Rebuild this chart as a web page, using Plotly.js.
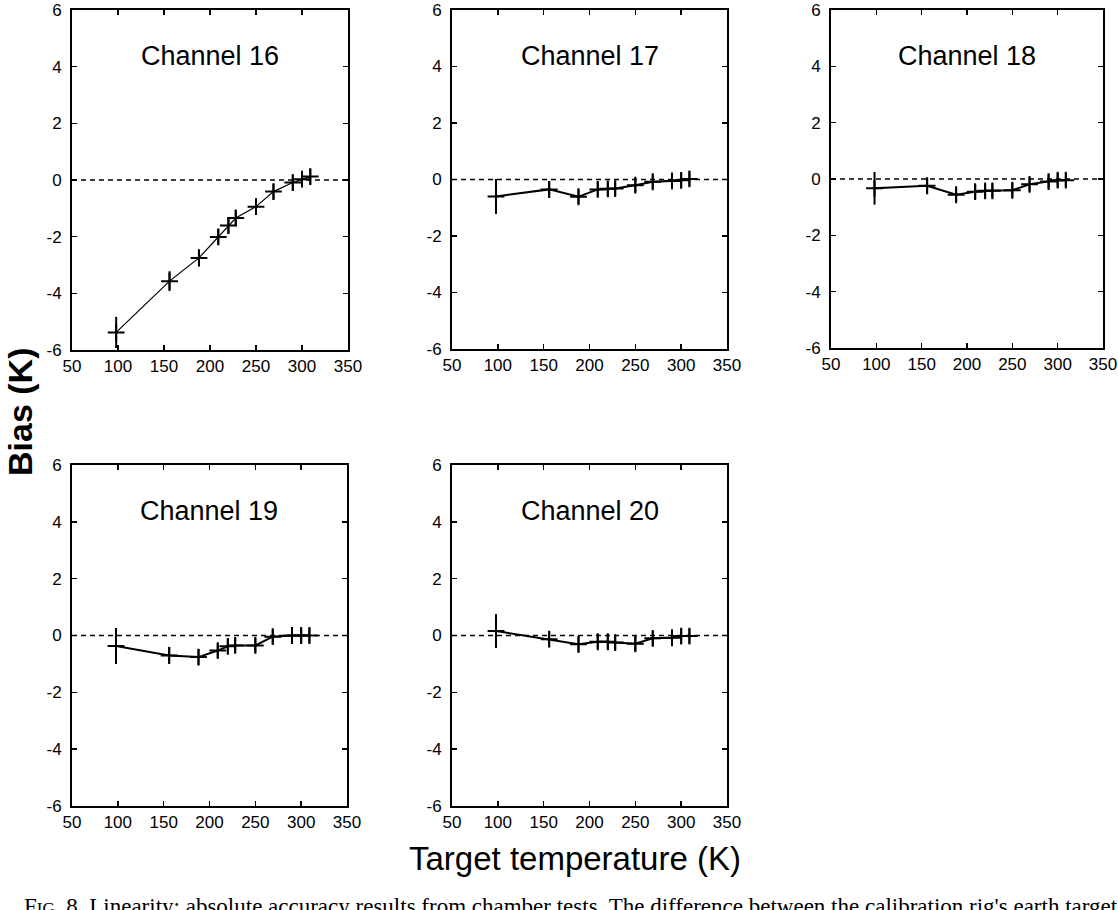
<!DOCTYPE html>
<html>
<head>
<meta charset="utf-8">
<script src="https://cdn.plot.ly/plotly-3.0.1.min.js"></script>
<style>
  body { margin: 0; background: #fff; }
  #grafico { width: 1118px; height: 910px; }
</style>
</head>
<body>
<div id="grafico"></div>
<script>
// target temperatures (K), same set for every channel
const temps = [98, 156, 188, 209, 220, 228, 250, 269, 290, 300, 309];

const channelNames = ['Channel 16', 'Channel 17', 'Channel 18', 'Channel 19', 'Channel 20'];

// bias (K)
const bias16 = [-5.38, -3.57, -2.75, -2.01, -1.61, -1.34, -0.94, -0.41, -0.09, 0.03, 0.12];
const bias17 = [-0.6, -0.35, -0.61, -0.35, -0.33, -0.32, -0.2, -0.08, -0.05, -0.03, 0.02];
const bias18 = [-0.33, -0.24, -0.56, -0.45, -0.42, -0.42, -0.4, -0.19, -0.09, -0.04, -0.04];
const bias19 = [-0.37, -0.7, -0.76, -0.53, -0.38, -0.35, -0.35, -0.04, 0, 0, 0];
const bias20 = [0.16, -0.13, -0.31, -0.22, -0.22, -0.25, -0.29, -0.1, -0.08, -0.02, -0.02];

// error bar half-lengths (K)
const err16 = [0.55, 0.35, 0.3, 0.28, 0.28, 0.28, 0.28, 0.28, 0.28, 0.28, 0.28];
const err17 = [0.62, 0.3, 0.26, 0.26, 0.26, 0.26, 0.26, 0.26, 0.26, 0.26, 0.26];
const err18 = [0.58, 0.28, 0.24, 0.26, 0.26, 0.26, 0.26, 0.26, 0.26, 0.26, 0.26];
const err19 = [0.63, 0.3, 0.28, 0.26, 0.26, 0.26, 0.26, 0.26, 0.26, 0.26, 0.26];
const err20 = [0.6, 0.28, 0.28, 0.26, 0.26, 0.26, 0.26, 0.26, 0.26, 0.26, 0.26];

const xTicks = [50, 100, 150, 200, 250, 300, 350];
const yTicks = [-6, -4, -2, 0, 2, 4, 6];

const allBias = [bias16, bias17, bias18, bias19, bias20];
const allErr = [err16, err17, err18, err19, err20];

// panel frames in pixels [left, right, top, bottom]
const W = 1118, H = 910;
const frames = [
    [72, 348, 10, 350],
    [452, 727, 10, 349],
    [831, 1103, 10, 348],
    [72, 347, 465, 806],
    [452, 727, 465, 806]
];

let traces = [];
let layout = {
    width: W,
    height: H,
    margin: { l: 0, r: 0, t: 0, b: 0 },
    paper_bgcolor: '#fff',
    plot_bgcolor: '#fff',
    showlegend: false,
    font: { family: '"Liberation Sans", Arial, sans-serif', color: '#000', size: 17 },
    shapes: [],
    annotations: []
};

for (let i = 0; i < 5; i++) {
    let n = i === 0 ? '' : String(i + 1);
    let f = frames[i];

    traces.push({
        x: temps,
        y: allBias[i],
        xaxis: 'x' + n,
        yaxis: 'y' + n,
        type: 'scatter',
        mode: 'lines+markers',
        line: { color: '#000', width: i === 0 ? 1.2 : 2 },
        marker: { symbol: 'cross-thin', size: 12, line: { color: '#000', width: 2 } },
        error_y: { type: 'data', array: allErr[i], visible: true, color: '#000', thickness: 2, width: 0 },
        cliponaxis: true,
        hoverinfo: 'x+y'
    });

    layout['xaxis' + n] = {
        domain: [f[0] / W, f[1] / W],
        anchor: 'y' + n,
        range: [50, 350],
        tickvals: xTicks,
        ticktext: xTicks.map(String),
        ticks: 'inside',
        ticklen: 5,
        tickwidth: 1.5,
        tickcolor: '#000',
        showline: true,
        linecolor: '#000',
        linewidth: 2,
        mirror: 'ticks',
        showgrid: false,
        zeroline: false,
        ticklabeloverflow: 'allow',
        tickfont: { size: 17 }
    };
    layout['yaxis' + n] = {
        domain: [1 - f[3] / H, 1 - f[2] / H],
        anchor: 'x' + n,
        range: [-6, 6],
        tickvals: yTicks,
        ticktext: yTicks.map(String),
        ticks: 'inside',
        ticklen: 5,
        tickwidth: 1.5,
        tickcolor: '#000',
        showline: true,
        linecolor: '#000',
        linewidth: 2,
        mirror: 'ticks',
        showgrid: false,
        zeroline: false,
        ticklabelstandoff: 5,
        ticklabeloverflow: 'allow',
        tickfont: { size: 17 }
    };

    // dashed zero line
    layout.shapes.push({
        type: 'line',
        xref: 'x' + n + ' domain',
        yref: 'y' + n,
        x0: 0, x1: 1, y0: 0, y1: 0,
        line: { color: '#000', width: 1.5, dash: '5px,4px' },
        layer: 'below'
    });

    layout.annotations.push({
        text: channelNames[i],
        xref: 'x' + n + ' domain',
        yref: 'y' + n + ' domain',
        x: 0.5, y: 0.865,
        xanchor: 'center', yanchor: 'middle',
        showarrow: false,
        font: { size: 27, color: '#000' }
    });
}

// shared axis titles
layout.annotations.push({
    text: '<b>Bias (K)</b>',
    xref: 'paper', yref: 'paper',
    x: 20 / W, y: 1 - 412 / H,
    xanchor: 'center', yanchor: 'middle',
    textangle: -90,
    showarrow: false,
    font: { size: 34, color: '#000' }
});
layout.annotations.push({
    text: 'Target temperature (K)',
    xref: 'paper', yref: 'paper',
    x: 575 / W, y: 1 - 858 / H,
    xanchor: 'center', yanchor: 'middle',
    showarrow: false,
    font: { size: 33, color: '#000' }
});
// figure caption, cut by the bottom edge of the page
layout.annotations.push({
    text: 'F<span style="font-size:17px">IG</span>. 8. Linearity: absolute accuracy results from chamber tests. The difference between the calibration rig\'s earth target',
    xref: 'paper', yref: 'paper',
    x: 22 / W, y: 1 - 892 / H,
    xanchor: 'left', yanchor: 'top',
    showarrow: false,
    font: { family: '"Liberation Serif", "DejaVu Serif", serif', size: 23, color: '#000' }
});

Plotly.newPlot('grafico', traces, layout, { staticPlot: true });
</script>
</body>
</html>
